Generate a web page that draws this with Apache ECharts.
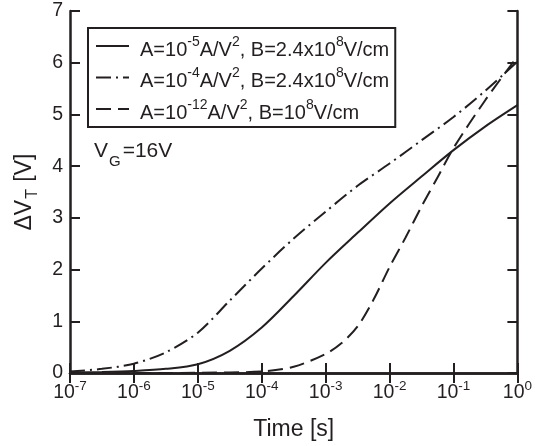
<!DOCTYPE html>
<html>
<head>
<meta charset="utf-8">
<script src="https://cdn.jsdelivr.net/npm/echarts@6/dist/echarts.min.js"></script>
<style>
html,body{margin:0;padding:0;background:#fff;}
#c{width:535px;height:446px;}
</style>
</head>
<body>
<div id="c"></div>
<script>
// ---- data ----
const timeAB = [1e-7, 3.16e-7, 1e-6, 3.16e-6, 1e-5, 3.16e-5, 1e-4, 3.16e-4, 1e-3, 3.16e-3, 1e-2, 3.16e-2, 1e-1, 3.16e-1, 1];
const valsSolid   = [0.01, 0.02, 0.04, 0.08, 0.17, 0.43, 0.88, 1.49, 2.13, 2.71, 3.28, 3.80, 4.31, 4.77, 5.18];
const valsDashDot = [0.03, 0.08, 0.18, 0.40, 0.78, 1.40, 2.02, 2.60, 3.12, 3.62, 4.05, 4.50, 4.95, 5.46, 6.02];
const timeC = [1e-7, 1e-6, 1e-5, 1e-4, 3.16e-4, 1e-3, 1.78e-3, 3.16e-3, 5.62e-3, 1e-2, 1.78e-2, 3.16e-2, 5.62e-2, 1e-1, 3.16e-1, 1];
const valsDash    = [0, 0, 0.005, 0.03, 0.12, 0.37, 0.58, 0.90, 1.42, 2.05, 2.62, 3.22, 3.78, 4.35, 5.28, 6.12];

const seriesNames = ['A=1e-5, B=2.4e8', 'A=1e-4, B=2.4e8', 'A=1e-12, B=1e8'];
const legendLabels = [
  '{f|A=10}{s|-5}{b|A/V}{s|2}{b|, B=2.4x10}{s|8}{b|V/cm}',
  '{f|A=10}{s|-4}{b|A/V}{s|2}{b|, B=2.4x10}{s|8}{b|V/cm}',
  '{f|A=10}{s|-12}{b|A/V}{s|2}{b|, B=10}{s|8}{b|V/cm}'
];
const xTickExps = ['-7', '-6', '-5', '-4', '-3', '-2', '-1', '0'];
const xName = 'Time [s]';
const yNameParts = ['ΔV', 'T', ' [V]'];
const noteParts = ['V', 'G', '=16V'];

// ---- chart ----
const INK = '#231f20';
const FONT = 'Liberation Sans, Arial, sans-serif';
const chart = echarts.init(document.getElementById('c'), null, {renderer: 'canvas'});

function pairs(t, v) { return t.map((x, i) => [x, v[i]]); }

const hiddenLabel = {show: false};
const tickStyle = {show: true, inside: true, length: 10, lineStyle: {color: INK, width: 2}};
const lineAx = {show: true, lineStyle: {color: INK, width: 2.5}};

const option = {
  backgroundColor: '#fff',
  animation: false,
  grid: {left: 70, right: 17, top: 11, bottom: 72, containLabel: false},
  title: {
    text: '{b|' + noteParts[0] + '}{sub|' + noteParts[1] + '}{b|' + noteParts[2] + '}',
    left: 94, top: 141, padding: 0,
    textStyle: {
      fontWeight: 'normal',
      rich: {
        b: {fontFamily: FONT, fontSize: 21, fontWeight: 'normal', color: INK, lineHeight: 28, verticalAlign: 'top'},
        sub: {fontFamily: FONT, fontSize: 15, fontWeight: 'normal', color: INK, lineHeight: 15, verticalAlign: 'bottom', padding: [0, 2, 0, 1]}
      }
    }
  },
  legend: {
    orient: 'vertical',
    left: 88, top: 28,
    padding: [4, 6, 4, 7],
    itemGap: 3.5,
    itemWidth: 33, itemHeight: 14,
    borderColor: INK, borderWidth: 2, borderRadius: 0,
    selectedMode: false,
    data: seriesNames,
    itemStyle: {opacity: 0},
    lineStyle: {width: 2, color: INK},
    formatter: function (name) { return legendLabels[seriesNames.indexOf(name)]; },
    textStyle: {
      color: INK,
      rich: {
        b: {fontFamily: FONT, fontSize: 20, color: INK, lineHeight: 28, verticalAlign: 'bottom'},
        f: {fontFamily: FONT, fontSize: 20, color: INK, lineHeight: 28, verticalAlign: 'bottom', padding: [0, 0, 0, 6]},
        s: {fontFamily: FONT, fontSize: 14, color: INK, lineHeight: 14, verticalAlign: 'top', padding: [3, 0, 0, 0]}
      }
    }
  },
  xAxis: [{
    type: 'log', logBase: 10, min: 1e-7, max: 1, interval: 1,
    position: 'bottom',
    axisLine: lineAx, axisTick: tickStyle, minorTick: {show: false},
    splitLine: {show: false},
    axisLabel: {
      margin: 4,
      formatter: function (v) {
        const e = Math.round(Math.log10(v));
        return '{b|10}{s|' + xTickExps[e + 7] + '}';
      },
      rich: {
        b: {fontFamily: FONT, fontSize: 19.5, color: INK, lineHeight: 26, verticalAlign: 'bottom'},
        s: {fontFamily: FONT, fontSize: 13.5, color: INK, lineHeight: 13, verticalAlign: 'top', padding: [2, 0, 0, 0]}
      }
    },
    name: xName, nameLocation: 'middle', nameGap: 45,
    nameTextStyle: {fontFamily: FONT, fontSize: 23, color: INK}
  }, {
    type: 'log', logBase: 10, min: 1e-7, max: 1, interval: 1,
    position: 'top',
    axisLine: lineAx, axisTick: tickStyle, axisLabel: hiddenLabel, splitLine: {show: false}
  }],
  yAxis: [{
    type: 'value', min: 0, max: 7, interval: 1,
    position: 'left',
    axisLine: lineAx, axisTick: tickStyle, splitLine: {show: false},
    axisLabel: {margin: 7, fontFamily: FONT, fontSize: 19.5, color: INK},
    name: '{b|' + yNameParts[0] + '}{sub|' + yNameParts[1] + '}{b|' + yNameParts[2] + '}',
    nameLocation: 'middle', nameGap: 29, nameRotate: 90,
    nameTextStyle: {
      rich: {
        b: {fontFamily: FONT, fontSize: 23, color: INK, lineHeight: 28, verticalAlign: 'top'},
        sub: {fontFamily: FONT, fontSize: 16, color: INK, lineHeight: 16, verticalAlign: 'bottom', padding: [0, 1, 0, 1]}
      }
    }
  }, {
    type: 'value', min: 0, max: 7, interval: 1,
    position: 'right',
    axisLine: lineAx, axisTick: tickStyle, axisLabel: hiddenLabel, splitLine: {show: false}
  }],
  series: [{
    name: seriesNames[0], type: 'line', data: pairs(timeAB, valsSolid),
    symbol: 'none', smooth: 0.3, clip: true,
    lineStyle: {color: INK, width: 2, type: 'solid'}, itemStyle: {color: INK}
  }, {
    name: seriesNames[1], type: 'line', data: pairs(timeAB, valsDashDot),
    symbol: 'none', smooth: 0.3, clip: true,
    lineStyle: {color: INK, width: 2, type: [15, 5, 2, 5]}, itemStyle: {color: INK}
  }, {
    name: seriesNames[2], type: 'line', data: pairs(timeC, valsDash),
    symbol: 'none', smooth: 0.3, clip: true,
    lineStyle: {color: INK, width: 2, type: [15, 7]}, itemStyle: {color: INK}
  }]
};
chart.setOption(option);
</script>
</body>
</html>
